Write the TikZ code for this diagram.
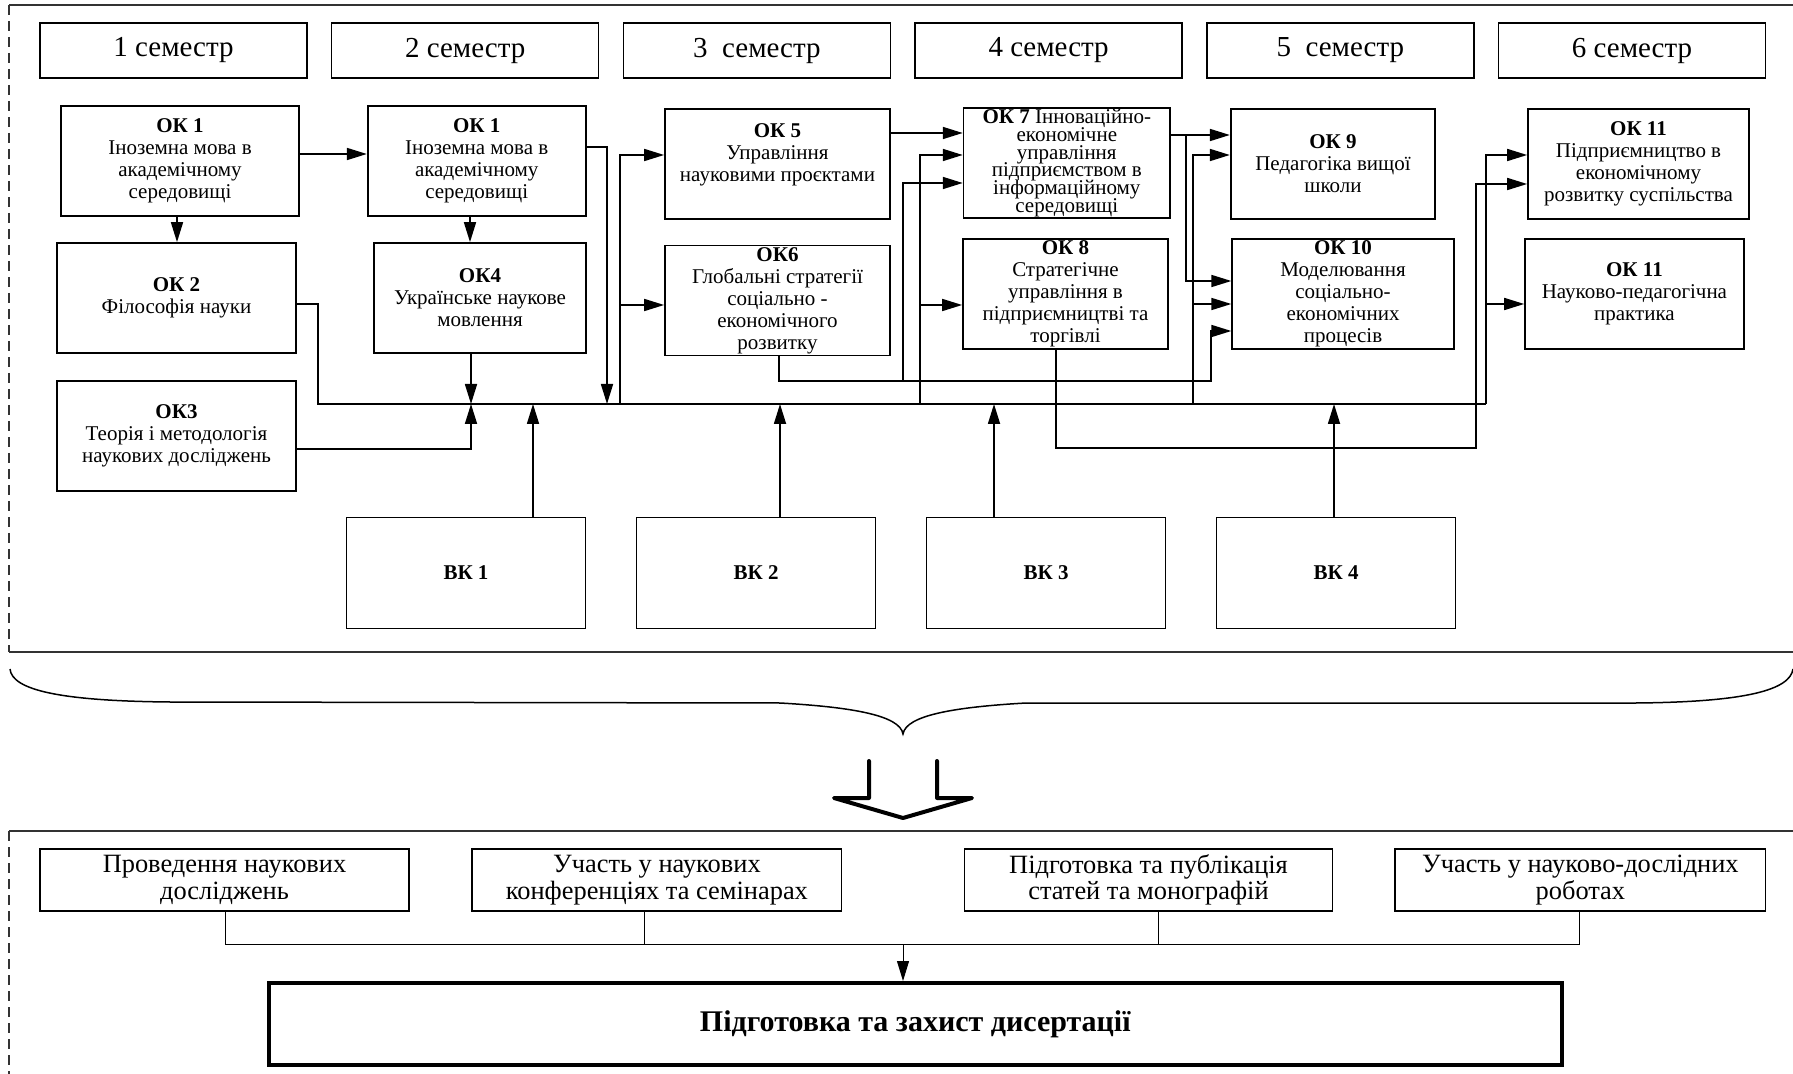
\documentclass[tikz,border=0pt]{standalone}
\usepackage{fontspec}
\setmainfont{Liberation Serif}
\usetikzlibrary{arrows.meta}
\usetikzlibrary{positioning}
\newcommand\okfont{\fontsize{10.5}{11}\selectfont\lineskiplimit=-100pt\relax}
\newcommand\oktightfont{\fontsize{10.5}{8.85}\selectfont\lineskiplimit=-100pt\relax}
\newcommand\workfont{\fontsize{13.2}{13.2}\selectfont\lineskiplimit=-100pt\relax}

\begin{document}
\begin{tikzpicture}[x=0.5pt, y=-0.5pt,
	okbox/.style={draw, line width=0.85pt, align=center, inner sep=0pt, minimum height=55pt, font=\okfont},
	sembox/.style={draw, line width=0.75pt, inner sep=0pt, minimum width=133.5pt, minimum height=27.5pt, font=\fontsize{14.5}{16}\selectfont},
	vkbox/.style={draw, line width=0.75pt, minimum width=119.5pt, minimum height=55.5pt, font=\bfseries\fontsize{10.5}{11}\selectfont},
	workbox/.style={draw, line width=0.65pt, align=center, inner sep=0pt, minimum height=31pt, font=\workfont},
	link/.style={line width=0.85pt},
	arr/.style={link, -{Triangle[length=10pt,width=6pt]}},
	thinlink/.style={line width=0.5pt},
	frame/.style={line width=0.9pt, color=black!80},
]
\useasboundingbox (0,0) rectangle (1793,1074);

% frames
\draw[frame] (9,5) -- (1793,5);
\draw[frame, dash pattern=on 5pt off 3pt] (9,5) -- (9,652);
\draw[frame] (9,652) -- (1793,652);
\draw[frame] (9,831) -- (1793,831);
\draw[frame, dash pattern=on 5pt off 3pt] (9,831) -- (9,1074);

% semesters
\foreach \x/\txt [count=\i] in {173.5/1 семестр, 465.2/2 семестр, 756.9/3\ \ семестр, 1048.6/4 семестр, 1340.3/5\ \ семестр, 1632/6 семестр}
	\node[sembox] (sem\i) at (\x,50.5) {\txt};

% compulsory courses
\node[okbox, minimum width=119.25pt] (ok1a) at (180,161) {\textbf{ОК 1}\\Іноземна мова в\\академічному\\середовищі};
\node[okbox, minimum width=109pt] (ok1b) at (476.7,161) {\textbf{ОК 1}\\Іноземна мова в\\академічному\\середовищі};
\node[okbox, minimum width=119.2pt] (ok2) at (176.5,298) {\textbf{ОК 2}\\Філософія науки};
\node[okbox, minimum width=106pt] (ok4) at (480,298) {\textbf{ОК4}\\Українське наукове\\мовлення};
\node[okbox, minimum width=119.2pt] (ok3) at (176.5,436) {\textbf{ОК3}\\Теорія і методологія\\наукових досліджень};
\node[okbox, minimum width=112.5pt] (ok5) at (777.5,164) {\textbf{ОК 5}\\Управління\\науковими проєктами\\\mbox{}};
\node[okbox, minimum width=112.5pt] (ok6) at (777.5,300.5) {\textbf{ОК6}\\Глобальні стратегії\\соціально -\\економічного\\розвитку};
\node[okbox, minimum width=103.2pt, font=\oktightfont] (ok7) at (1066.8,163) {\textbf{ОК 7} Інноваційно-\\економічне\\управління\\підприємством в\\інформаційному\\середовищі};
\node[okbox, minimum width=102.5pt] (ok8) at (1065.5,294) {\textbf{ОК 8}\\Стратегічне\\управління в\\підприємництві та\\торгівлі};
\node[okbox, minimum width=102.3pt] (ok9) at (1333,164) {\textbf{ОК 9}\\Педагогіка вищої\\школи};
\node[okbox, minimum width=110.8pt] (ok10) at (1343,294) {\textbf{ОК 10}\\Моделювання\\соціально-\\економічних\\процесів};
\node[okbox, minimum width=110.5pt] (ok11a) at (1638.5,164) {\textbf{ОК 11}\\Підприємництво в\\економічному\\розвитку суспільства};
\node[okbox, minimum width=109.35pt] (ok11b) at (1634.4,294) {\textbf{ОК 11}\\Науково-педагогічна\\практика};

% elective courses
\foreach \i in {1,...,4}
	\node[vkbox] (vk\i) at ({466+290*(\i-1)},572.8) {ВК \i};

% bus
\coordinate (busw) at (318,404);
\coordinate (buse) at (1486,404);
\draw[link] (ok2.east |- 0,304) -| (busw) -- (buse);

\draw[arr] (ok1a.east |- 0,154) -- (ok1b.west |- 0,154);
\draw[arr] (177,0 |- ok1a.south) -- (177,0 |- ok2.north);
\draw[arr] (470,0 |- ok1b.south) -- (470,0 |- ok4.north);
\draw[arr] (471,0 |- ok4.south) -- (471,0 |- busw);
\draw[arr] (ok3.east |- 0,449) -| (471,0 |- busw);
\draw[arr] (ok1b.east |- 0,147) -| (607,0 |- busw);
\draw[arr] (620,0 |- busw) |- (ok5.west |- 0,155);
\draw[arr] (620,305) -- (ok6.west |- 0,305);
\draw[arr] (ok5.east |- 0,133) -- (ok7.west |- 0,133);
\draw[arr] (920,0 |- busw) |- (ok7.west |- 0,155);
\draw[arr] (920,305) -- (ok8.west |- 0,305);
\draw[arr] (779,0 |- ok6.south) |- (1211,381) |- (ok10.west |- 0,331);
\draw[arr] (903,381) |- (ok7.west |- 0,183);
\draw[arr] (ok7.east |- 0,135) -- (ok9.west |- 0,135);
\draw[arr] (1186,135) |- (ok10.west |- 0,281);
\draw[arr] (1193,0 |- busw) |- (ok9.west |- 0,155);
\draw[arr] (1193,304) -- (ok10.west |- 0,304);
\draw[arr] (buse) |- (ok11a.west |- 0,155);
\draw[arr] (1486,304) -- (ok11b.west |- 0,304);
\draw[arr] (1056,0 |- ok8.south) |- (1476,448) |- (ok11a.west |- 0,184);
\foreach \i/\x in {1/533, 2/780, 3/994, 4/1334}
	\draw[arr] (\x,0 |- vk\i.north) -- (\x,0 |- busw);

% brace and transition arrow
\draw[line width=0.75pt] (10,669) .. controls (12,690) and (60,701) .. (170,702) -- (780,703) .. controls (850,707) and (900,715) .. (903,734) .. controls (906,715) and (956,707) .. (1026,703) -- (1636,703) .. controls (1746,702) and (1790,690) .. (1793,669);
\draw[line width=2pt, line join=round, line cap=round] (869,761) -- (869,798) -- (834,798) -- (903,818) -- (972,798) -- (937,798) -- (937,761);

% research work
\node[workbox, minimum width=184.5pt] (lb1) at (224.5,880) {Проведення наукових\\досліджень};
\node[workbox, minimum width=184.85pt] (lb2) at (656.9,880) {Участь у наукових\\конференціях та семінарах};
\node[workbox, minimum width=184pt] (lb3) at (1148.5,880) {Підготовка та публікація\\статей та монографій};
\node[workbox, minimum width=185.35pt] (lb4) at (1580.4,880) {Участь у науково-дослідних\\роботах};
\node[draw, line width=2pt, minimum width=646.7pt, minimum height=41pt, font=\bfseries\fontsize{15}{17}\selectfont] (thesis) at (915.3,1024) {Підготовка та захист дисертації};

\coordinate (merge) at (903,944);
\draw[thinlink] (225,0 |- lb1.south) |- (1579,944) -- (1579,0 |- lb4.south);
\draw[thinlink] (644,0 |- lb2.south) -- (644,944);
\draw[thinlink] (1158,0 |- lb3.south) -- (1158,944);
\draw[thinlink, -{Triangle[length=10pt,width=6pt]}] (merge) -- (903,0 |- thesis.north);
\end{tikzpicture}
\end{document}
